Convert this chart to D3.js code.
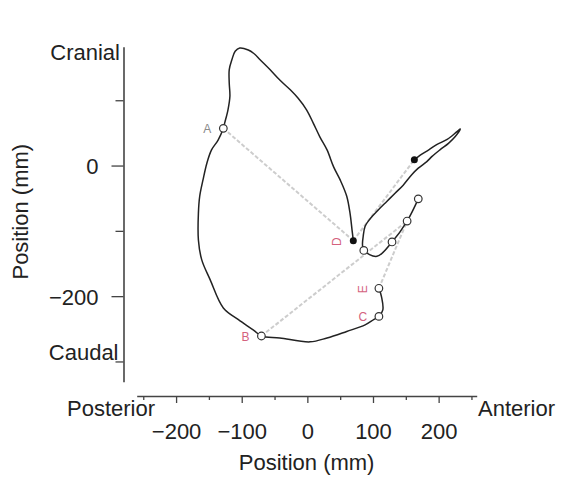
<!DOCTYPE html>
<html>
<head>
<meta charset="utf-8">
<script src="https://cdn.jsdelivr.net/npm/d3@7"></script>
<style>
  body { margin: 0; background: #fff; }
  svg text { font-family: "Liberation Sans", Arial, sans-serif; fill: #222; }
</style>
</head>
<body>
<svg id="chart" width="561" height="477"></svg>
<script>
// big loop, starts at D and ends at E
const outerLoop = [
  [70,-115],[68,-98],[65,-73],[60,-47],[50,-22],[40,-2],[30,24],[19,44],[9,65],
  [-1,85],[-14,103],[-26,116],[-42,131],[-57,147],[-72,162],[-82,172],[-90,177],
  [-103,180],[-110,175],[-115,162],[-119,147],[-119,126],[-118,106],[-121,85],
  [-126,65],[-128,57],[-136,39],[-146,24],[-153,4],[-159,-22],[-164,-47],
  [-166,-73],[-166,-114],[-161,-144],[-148,-175],[-128,-218],[-105,-236],
  [-82,-252],[-70,-261],[-42,-264],[4,-270],[30,-264],[60,-254],[88,-244],
  [101,-236],[109,-231],[115,-221],[113,-201],[109,-188]
];
// narrow loop, from the filled dot out to the tip and back
const innerLoop = [
  [163,9],[172,16],[185,24],[197,32],[213,40],[228,52],[233,56],[225,44],
  [215,34],[202,24],[190,14],[182,6],[169,-4],[159,-14],[146,-30],[134,-42],
  [121,-55],[108,-68],[96,-81],[88,-93],[85,-109],[84,-121],[86,-130],
  [106,-139],[129,-117],[152,-85],[169,-51]
];
const eventLabels = ["A", "B", "C", "E"];
const eventPoints = [[-128,57],[-70,-261],[109,-231],[109,-188]];
const innerCircles = [[86,-130],[129,-117],[152,-85],[169,-51]];
const filledDots = [[70,-115],[163,9]];
const guideLines = [
  [[-128,57],[70,-115]],
  [[70,-115],[163,9]],
  [[-70,-261],[152,-85]],
  [[109,-188],[152,-85]]
];
const xMajor = [-200, -100, 0, 100, 200];
const xMinor = [-250, -150, -50, 50, 150, 250];
const yMajor = [0, -200];
const yMinor = [100, -100, -300];

const svg = d3.select("#chart");
const x = d3.scaleLinear().domain([-260, 258]).range([136.7, 476.7]);
const y = d3.scaleLinear().domain([-331, 182]).range([381.7, 46.7]);
const fmt = d => d3.format("")(d);

// x axis
const xg = svg.append("g").attr("transform", "translate(0,396)");
xg.call(d3.axisBottom(x).tickValues(xMajor).tickSize(7).tickSizeOuter(0)
  .tickPadding(20).tickFormat(fmt));
xg.append("g").call(d3.axisBottom(x).tickValues(xMinor).tickSize(4)
  .tickSizeOuter(0).tickFormat(""));
xg.selectAll("g g .domain").remove();

// y axis
const yg = svg.append("g").attr("transform", "translate(123.5,0)");
yg.call(d3.axisLeft(y).tickValues(yMajor).tickSize(12).tickSizeOuter(0)
  .tickPadding(13).tickFormat(fmt));
yg.append("g").call(d3.axisLeft(y).tickValues(yMinor).tickSize(8)
  .tickSizeOuter(0).tickFormat(""));
yg.selectAll("g g .domain").remove();

svg.selectAll(".domain").attr("stroke", "#444").attr("stroke-width", 1.6);
svg.selectAll(".tick line").attr("stroke", "#444").attr("stroke-width", 1.3);
svg.selectAll(".tick text").attr("font-size", 22)
  .attr("font-family", "Liberation Sans, Arial, sans-serif").attr("fill", "#222");
yg.selectAll(".tick text").attr("dy", "0.36em");

// guide lines
svg.append("g").selectAll("line").data(guideLines).join("line")
  .attr("x1", d => x(d[0][0])).attr("y1", d => y(d[0][1]))
  .attr("x2", d => x(d[1][0])).attr("y2", d => y(d[1][1]))
  .attr("stroke", "#cdcdcd").attr("stroke-width", 2)
  .attr("stroke-dasharray", "4,2");

const line = d3.line().x(d => x(d[0])).y(d => y(d[1]))
  .curve(d3.curveCatmullRom.alpha(0.5));
svg.append("path").attr("d", line(outerLoop))
  .attr("fill", "none").attr("stroke", "#222").attr("stroke-width", 1.5);
svg.append("path").attr("d", line(innerLoop))
  .attr("fill", "none").attr("stroke", "#222").attr("stroke-width", 1.5);

// markers
svg.append("g").selectAll("circle").data(eventPoints.concat(innerCircles)).join("circle")
  .attr("cx", d => x(d[0])).attr("cy", d => y(d[1])).attr("r", 3.8)
  .attr("fill", "#fff").attr("stroke", "#333").attr("stroke-width", 1.2);
svg.append("g").selectAll("circle").data(filledDots).join("circle")
  .attr("cx", d => x(d[0])).attr("cy", d => y(d[1])).attr("r", 3.5)
  .attr("fill", "#111");

// event labels (D and E appear turned on their side in the original)
const labelled = eventPoints.map((p, i) => ({ p, t: eventLabels[i], rot: eventLabels[i] === "E" ? -90 : 0 }));
labelled.push({ p: filledDots[0], t: "D", rot: -90 });
svg.append("g").selectAll("text").data(labelled).join("text")
  .attr("transform", d => `translate(${x(d.p[0]) - 16},${y(d.p[1]) + 1}) rotate(${d.rot})`)
  .attr("text-anchor", "middle").attr("dominant-baseline", "central")
  .attr("font-size", 12)
  .style("fill", d => d.t === "A" ? "#8a8a8a" : "#d4627e")
  .text(d => d.t);

// direction words and titles
const words = svg.append("g").attr("font-size", 22);
words.append("text").attr("x", 120).attr("y", 60).attr("text-anchor", "end").text("Cranial");
words.append("text").attr("x", 118.5).attr("y", 360).attr("text-anchor", "end").text("Caudal");
words.append("text").attr("x", 67).attr("y", 416).text("Posterior");
words.append("text").attr("x", 478).attr("y", 416).text("Anterior");
words.append("text").attr("x", 306.6).attr("y", 470).attr("text-anchor", "middle").text("Position (mm)");
words.append("text").attr("transform", "translate(28,211.7) rotate(-90)")
  .attr("text-anchor", "middle").text("Position (mm)");
</script>
</body>
</html>
